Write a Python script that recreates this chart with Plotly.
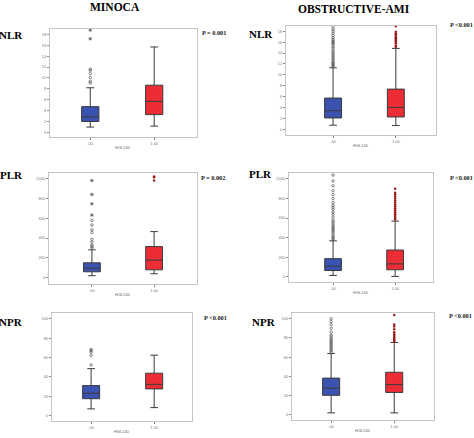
import plotly.graph_objects as go

W, H = 474, 438

# ---------------- data ----------------
groups = ["MINOCA", "OBSTRUCTIVE-AMI"]
metrics = ["NLR", "PLR", "NPR"]
x_ticklabels = [".00", "1.00"]
x_title = "HGL140"

p_values = {
    ("MINOCA", "NLR"): "P = 0.001",
    ("OBSTRUCTIVE-AMI", "NLR"): "P <0.001",
    ("MINOCA", "PLR"): "P = 0.002",
    ("OBSTRUCTIVE-AMI", "PLR"): "P <0.001",
    ("MINOCA", "NPR"): "P <0.001",
    ("OBSTRUCTIVE-AMI", "NPR"): "P <0.001",
}

# box stats: [lower whisker, q1, median, q3, upper whisker] for group 0 (blue) and 1 (red)
minoca_nlr_blue = [0.97, 2.0, 2.85, 4.73, 8.2]
minoca_nlr_red = [1.15, 3.27, 5.7, 8.67, 15.7]
obst_nlr_blue = [0.79, 2.12, 3.45, 5.76, 11.3]
obst_nlr_red = [0.73, 2.3, 4.06, 7.4, 14.85]
minoca_plr_blue = [17, 57, 94, 148, 280]
minoca_plr_red = [37, 77, 175, 313, 465]
obst_plr_blue = [13, 64, 108, 185, 367]
obst_plr_red = [3, 71, 131, 273, 569]
minoca_npr_blue = [7.1, 17.6, 23.3, 31.1, 48.6]
minoca_npr_red = [8.4, 27.7, 32.4, 43.9, 62.5]
obst_npr_blue = [2.0, 20.3, 27.7, 38.2, 63.9]
obst_npr_red = [2.0, 23.3, 31.4, 44.3, 75.3]

# outliers
minoca_nlr_blue_out = [9.1, 9.4, 10.1, 10.8, 11.4, 11.6]
minoca_nlr_blue_ext = [17.2, 18.8]
minoca_nlr_red_out = []
obst_nlr_blue_out = [11.5, 11.7, 11.9, 12.1, 12.3, 12.6, 12.9, 13.2, 13.5, 13.8, 14.1,
                     14.4, 14.8, 15.1, 15.5, 15.8, 16.0, 16.2, 16.5, 16.8, 17.2, 17.6,
                     18.0, 18.4, 18.9]
obst_nlr_red_out = [15.1, 15.4, 15.8, 16.1, 16.3, 16.5, 16.7, 16.9, 17.1, 17.4, 17.6,
                    17.9, 18.9]
minoca_plr_blue_out = [300, 315, 330, 360, 387, 455, 481, 532, 579]
minoca_plr_blue_ext = [633, 747, 842, 983]
minoca_plr_red_out = [983, 1017, 1024]
obst_plr_blue_out = [375, 390, 405, 420, 440, 460, 475, 490, 505, 520, 540, 560, 580,
                     610, 640, 660, 690, 710, 730, 760, 800, 840, 880, 930, 980, 1040]
obst_plr_red_out = [585, 600, 620, 640, 660, 680, 700, 720, 740, 760, 780, 800, 820,
                    840, 860, 900]
minoca_npr_blue_out = [52.4, 62.2, 65.5, 67.2, 68.2]
minoca_npr_red_out = []
obst_npr_blue_out = [65.5, 67, 68.5, 70, 71.5, 73, 74.5, 76, 77.5, 79, 81, 83, 86, 90,
                     94, 97, 100]
obst_npr_red_out = [76, 77.5, 79, 80.5, 82, 84, 86, 89, 92, 94, 104]

panels = [
    ("MINOCA", "NLR", minoca_nlr_blue, minoca_nlr_red, minoca_nlr_blue_out,
     minoca_nlr_blue_ext, minoca_nlr_red_out, [-0.85, 19.0], 2, [-0.63, 1.67],
     (50, 197, 29, 137)),
    ("OBSTRUCTIVE-AMI", "NLR", obst_nlr_blue, obst_nlr_red, obst_nlr_blue_out, [],
     obst_nlr_red_out, [-1.0, 18.95], 2, [-0.75, 1.64], (286, 436, 26, 135)),
    ("MINOCA", "PLR", minoca_plr_blue, minoca_plr_red, minoca_plr_blue_out,
     minoca_plr_blue_ext, minoca_plr_red_out, [-67, 1060], 200, [-0.69, 1.69],
     (49, 197, 173, 284)),
    ("OBSTRUCTIVE-AMI", "PLR", obst_plr_blue, obst_plr_red, obst_plr_blue_out, [],
     obst_plr_red_out, [-54, 1061], 200, [-0.71, 1.61], (289, 433, 173, 282)),
    ("MINOCA", "NPR", minoca_npr_blue, minoca_npr_red, minoca_npr_blue_out, [],
     minoca_npr_red_out, [-5.4, 106], 20, [-0.62, 1.6], (52, 192, 313, 421)),
    ("OBSTRUCTIVE-AMI", "NPR", obst_npr_blue, obst_npr_red, obst_npr_blue_out, [],
     obst_npr_red_out, [-5.4, 106], 20, [-0.62, 1.63], (292, 434, 313, 420)),
]

BLUE = "#3a53b0"
RED = "#ec2d36"
LINE = "#3a3a3a"

fig = go.Figure()
layout = {}
for i, (grp, met, sb, sr, ob, eb, orr, yr, dt, xr, fr) in enumerate(panels):
    n = "" if i == 0 else str(i + 1)
    xa, ya = "x" + n, "y" + n
    x0, x1, y0, y1 = fr
    for xpos, st, col in [(0, sb, BLUE), (1, sr, RED)]:
        fig.add_trace(go.Box(
            x=[xpos], lowerfence=[st[0]], q1=[st[1]], median=[st[2]], q3=[st[3]],
            upperfence=[st[4]], fillcolor=col, line=dict(color=LINE, width=1),
            width=0.27, whiskerwidth=0.45, boxpoints=False, xaxis=xa, yaxis=ya,
            showlegend=False, hoverinfo="skip"))
    if ob:
        fig.add_trace(go.Scatter(
            x=[0] * len(ob), y=ob, mode="markers", xaxis=xa, yaxis=ya,
            marker=dict(symbol="circle-open", size=2.5, color="#555",
                        line=dict(width=0.7, color="#555")),
            showlegend=False, hoverinfo="skip"))
    if eb:
        fig.add_trace(go.Scatter(
            x=[0] * len(eb), y=eb, mode="markers", xaxis=xa, yaxis=ya,
            marker=dict(symbol="asterisk-open", size=3, color="#555",
                        line=dict(width=0.7, color="#555")),
            showlegend=False, hoverinfo="skip"))
    if orr:
        fig.add_trace(go.Scatter(
            x=[1] * len(orr), y=orr, mode="markers", xaxis=xa, yaxis=ya,
            marker=dict(symbol="circle", size=2.5, color="#9b1b1b"),
            showlegend=False, hoverinfo="skip"))
    axkw = dict(showgrid=False, zeroline=False, showline=True, linecolor="#c4c4c4",
                linewidth=1, mirror=True, ticks="outside", ticklen=2, tickwidth=0.6,
                tickcolor="#888", tickfont=dict(size=4, color="#777",
                                                family="Liberation Sans"))
    layout["xaxis" + n] = dict(
        domain=[x0 / W, x1 / W], range=xr, anchor=ya, tickmode="array",
        tickvals=[0, 1], ticktext=x_ticklabels, **axkw)
    layout["yaxis" + n] = dict(
        domain=[1 - y1 / H, 1 - y0 / H], range=yr, anchor=xa, dtick=dt, tick0=0,
        **axkw)


def ann(px, py, text, size, color, family, xanchor="center"):
    return dict(x=px / W, y=1 - py / H, xref="paper", yref="paper", text=text,
                showarrow=False, xanchor=xanchor, yanchor="middle", borderpad=0,
                font=dict(size=size, color=color, family=family))


annotations = []
# x axis titles
for p in panels:
    x0, x1, y0, y1 = p[-1]
    annotations.append(ann((x0 + x1) / 2, y1 + 10, x_title, 4, "#666",
                           "Liberation Sans"))

# column titles
annotations.append(ann(115, 7, "<b>" + groups[0] + "</b>", 11.5, "black",
                       "Liberation Serif"))
annotations.append(ann(354, 9, "<b>" + groups[1] + "</b>", 11.5, "black",
                       "Liberation Serif"))

# row labels (center positions)
row_pos = {
    ("MINOCA", "NLR"): (11, 35), ("OBSTRUCTIVE-AMI", "NLR"): (261, 34),
    ("MINOCA", "PLR"): (11, 175), ("OBSTRUCTIVE-AMI", "PLR"): (260, 174),
    ("MINOCA", "NPR"): (11, 322), ("OBSTRUCTIVE-AMI", "NPR"): (264, 322),
}
for (g, m), (px, py) in row_pos.items():
    annotations.append(ann(px, py, "<b>" + m + "</b>", 11, "black", "Liberation Serif"))

# p values
p_pos = {
    ("MINOCA", "NLR"): (214, 32, "center"), ("OBSTRUCTIVE-AMI", "NLR"): (474, 25, "right"),
    ("MINOCA", "PLR"): (213, 177, "center"), ("OBSTRUCTIVE-AMI", "PLR"): (474, 178, "right"),
    ("MINOCA", "NPR"): (215, 317, "center"), ("OBSTRUCTIVE-AMI", "NPR"): (473, 315, "right"),
}
for key, (px, py, anc) in p_pos.items():
    annotations.append(ann(px, py, "<b>" + p_values[key] + "</b>", 6.3, "#222",
                           "Liberation Serif", xanchor=anc))

fig.update_layout(
    width=W, height=H, margin=dict(l=0, r=0, t=0, b=0),
    paper_bgcolor="white", plot_bgcolor="white", annotations=annotations,
    **layout)

fig.write_html("out.html", config={"displayModeBar": False},
               post_script="document.body.style.margin='0';"
                           "document.body.style.overflow='hidden';")
